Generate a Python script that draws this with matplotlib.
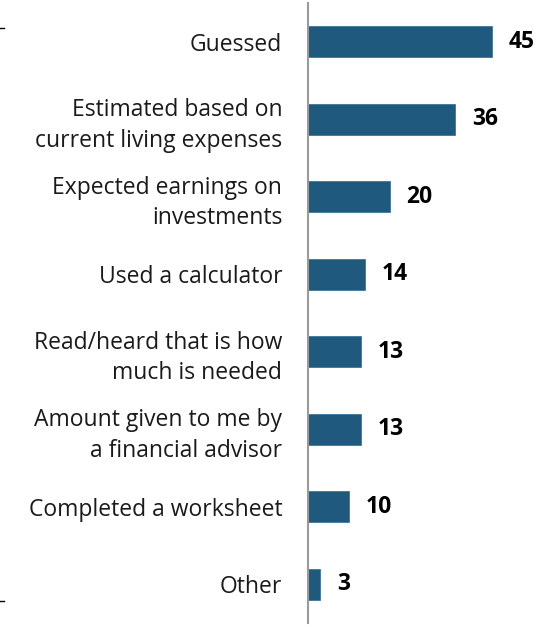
import matplotlib.pyplot as plt
from matplotlib.lines import Line2D

plt.rcParams['font.family'] = ['Open Sans', 'DejaVu Sans']

categories = ['Guessed',
              'Estimated based on\ncurrent living expenses',
              'Expected earnings on\ninvestments',
              'Used a calculator',
              'Read/heard that is how\nmuch is needed',
              'Amount given to me by\na financial advisor',
              'Completed a worksheet',
              'Other']
values = [45, 36, 20, 14, 13, 13, 10, 3]

fig = plt.figure(figsize=(5.39, 6.28), dpi=100)
ax = fig.add_axes([308 / 539, 5 / 628, 1 - 308 / 539, 620 / 628])

pos = list(range(len(categories)))
ax.barh(pos, values, height=0.4, color='#1F5A7E', edgecolor='#2b6a92', linewidth=0.5)
ax.set_ylim(len(categories) - 0.5, -0.5)
ax.set_xlim(0, 56.5)

for y, v in zip(pos, values):
    ax.annotate(str(v), (v, y), xytext=(12, 0), textcoords='offset points',
                ha='left', va='center', fontsize=16.5, fontweight='bold', color='black')

ax.set_yticks(pos)
ax.set_yticklabels(categories, fontsize=16.5, color='#1a1a1a', linespacing=1.35)
ax.tick_params(axis='y', length=0, pad=18.5)
ax.set_xticks([])

for s in ['top', 'right', 'bottom']:
    ax.spines[s].set_visible(False)
ax.spines['left'].set_color('#9a9a9a')
ax.spines['left'].set_linewidth(1.5)

# little tick marks at left edge
for yy in [28, 601]:
    fig.add_artist(Line2D([0, 4 / 539], [1 - yy / 628, 1 - yy / 628],
                          transform=fig.transFigure, color='black', lw=1))

fig.savefig('out.png', dpi=100)
